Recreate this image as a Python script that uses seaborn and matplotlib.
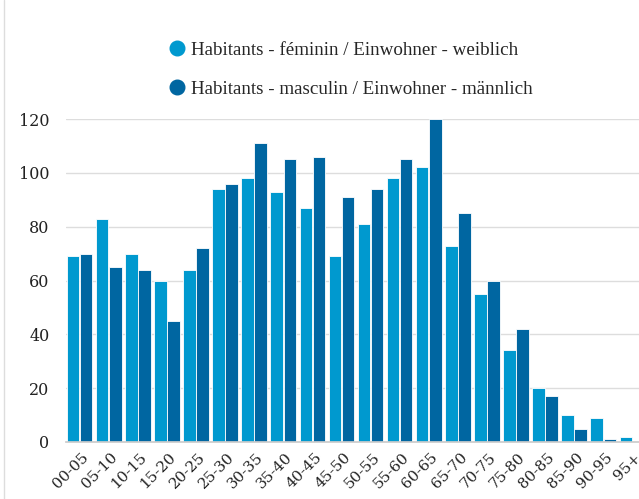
import matplotlib
matplotlib.use("Agg")
import matplotlib.pyplot as plt
from matplotlib.lines import Line2D
import matplotlib.transforms as mtransforms
import seaborn as sns
import pandas as pd

categories = ["00-05", "05-10", "10-15", "15-20", "20-25", "25-30", "30-35", "35-40",
              "40-45", "45-50", "50-55", "55-60", "60-65", "65-70", "70-75", "75-80",
              "80-85", "85-90", "90-95", "95+"]
female = [69, 83, 70, 60, 64, 94, 98, 93, 87, 69, 81, 98, 102, 73, 55, 34, 20, 10, 9, 2]
male = [70, 65, 64, 45, 72, 96, 111, 105, 106, 91, 94, 105, 120, 85, 60, 42, 17, 5, 1, 0]
series_names = ["Habitants - féminin / Einwohner - weiblich",
                "Habitants - masculin / Einwohner - männlich"]
y_ticks = [0, 20, 40, 60, 80, 100, 120]
colors = ["#0099cf", "#0066a1"]

df = pd.DataFrame({
    "age": categories * 2,
    "value": female + male,
    "series": [series_names[0]] * len(categories) + [series_names[1]] * len(categories),
})

sns.set_theme(style="white")
plt.rcParams["font.family"] = ["DejaVu Serif"]

W, H = 639, 499
fig = plt.figure(figsize=(W / 100, H / 100), dpi=100)
ax_left, ax_right, ax_bottom, ax_top = 66, 646, 442, 119
ax = fig.add_axes([ax_left / W, (H - ax_bottom) / H, (ax_right - ax_left) / W, (ax_bottom - ax_top) / H])

sns.barplot(data=df, x="age", y="value", hue="series", palette=colors, ax=ax,
            width=0.9, gap=0.04, edgecolor="white", linewidth=0.6, legend=False,
            saturation=1)

ax.set_xlim(-0.47, 19.47)
ax.set_ylim(0, 120)
ax.set_yticks(y_ticks)
ax.set_yticklabels([str(v) for v in y_ticks], fontsize=11.5, color="#222222")
ax.yaxis.grid(True, color="#dddddd", linewidth=1)
ax.set_axisbelow(True)
for s in ["top", "right", "left"]:
    ax.spines[s].set_visible(False)
ax.spines["bottom"].set_color("#cccccc")
ax.tick_params(axis="y", length=0, pad=12)
ax.tick_params(axis="x", length=0, pad=4)
ax.set_xlabel("")
ax.set_ylabel("")
shift = mtransforms.ScaledTranslation(2 / 100, -3 / 100, fig.dpi_scale_trans)
for lab in ax.get_xticklabels():
    lab.set_rotation(45)
    lab.set_ha("right")
    lab.set_va("top")
    lab.set_rotation_mode("anchor")
    lab.set_fontsize(11.0)
    lab.set_color("#222222")
    lab.set_transform(lab.get_transform() + shift)

handles = [Line2D([0], [0], marker="o", linestyle="", markersize=10.5,
                  markerfacecolor=c, markeredgecolor=c) for c in colors]
fig.legend(handles, series_names, loc="upper left",
           bbox_to_anchor=(160 / W, 1 - 34 / H), frameon=False,
           prop={"family": "Liberation Serif", "size": 13.7},
           labelspacing=1.15, handletextpad=0.25, handlelength=1.0, borderaxespad=0)

fig.add_artist(Line2D([4 / W, 4 / W], [0, 1], color="#dddddd", linewidth=1))

fig.savefig("out.png", dpi=100)
